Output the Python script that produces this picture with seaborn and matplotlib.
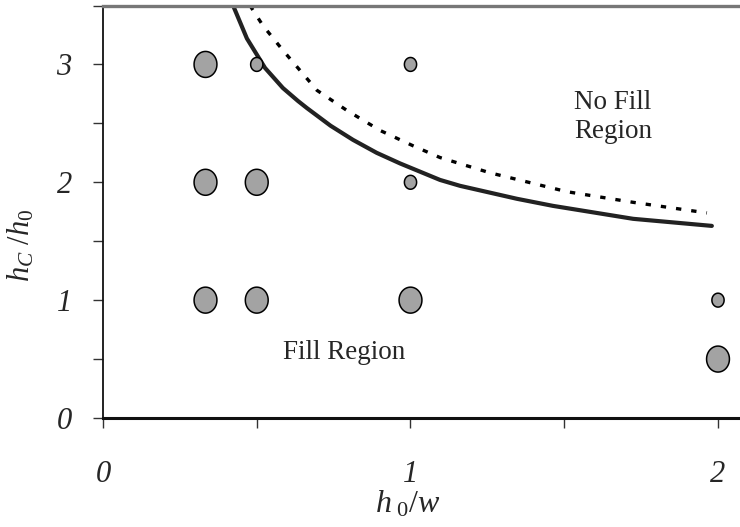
import numpy as np
import pandas as pd
import matplotlib
matplotlib.use("Agg")
import matplotlib.pyplot as plt
from matplotlib.path import Path
import seaborn as sns

# Test cases: aspect ratio h0/w, gap ratio hc/h0, marker class
case_x = [1/3, 1/3, 1/3, 0.5, 0.5, 0.5, 1.0, 1.0, 1.0, 2.0, 2.0]
case_y = [1.0, 2.0, 3.0, 1.0, 2.0, 3.0, 1.0, 2.0, 3.0, 1.0, 0.5]
case_size = ["large", "large", "large", "large", "large", "small",
             "large", "small", "small", "small", "large"]

# Fill / no-fill boundary (solid) and alternative boundary (dashed)
bound_x = [0.423, 0.468, 0.527, 0.585, 0.634, 0.663, 0.740, 0.813, 0.890,
           0.966, 1.096, 1.161, 1.346, 1.463, 1.724, 1.980]
bound_y = [3.50, 3.22, 2.97, 2.80, 2.69, 2.63, 2.48, 2.36, 2.25,
           2.16, 2.02, 1.97, 1.86, 1.80, 1.69, 1.63]
alt_x = [0.478, 0.520, 0.585, 0.696, 0.793, 0.901, 1.008, 1.096, 1.259,
         1.509, 1.724, 1.964]
alt_y = [3.50, 3.33, 3.12, 2.78, 2.61, 2.44, 2.31, 2.21, 2.08,
         1.92, 1.83, 1.74]

x_ticks = [0, 1, 2]
y_ticks = [0, 1, 2, 3]

sns.set_style("ticks")
plt.rcParams["font.family"] = ["Liberation Serif", "DejaVu Serif"]
plt.rcParams["mathtext.fontset"] = "custom"
plt.rcParams["mathtext.it"] = "Liberation Serif:italic"
plt.rcParams["mathtext.rm"] = "Liberation Serif"

fig = plt.figure(figsize=(7.4, 5.27), dpi=100)
ax = fig.add_axes([103 / 740, 109 / 527, 637 / 740, 412.5 / 527])

cases = pd.DataFrame({"x": case_x, "y": case_y, "size": case_size})

# slightly tall ellipse marker
t = np.linspace(0, 2 * np.pi, 60)
ell = Path(np.column_stack([0.44 * np.cos(t), 0.5 * np.sin(t)]), closed=True)

sns.scatterplot(data=cases, x="x", y="y", size="size",
                sizes={"large": 350, "small": 100}, marker=ell,
                color="#a3a3a3", edgecolor="black", linewidth=1.1,
                legend=False, ax=ax, zorder=3)

sns.lineplot(x=bound_x, y=bound_y, sort=False, color="#222222",
             linewidth=3.0, ax=ax, zorder=2)
sns.lineplot(x=alt_x, y=alt_y, sort=False, color="black",
             linewidth=2.4, linestyle=(0, (1.6, 3.0)), ax=ax, zorder=2)

ax.set_xlim(0, 637 / 307.5)
ax.set_ylim(0, 3.5)

ax.set_xticks(x_ticks)
ax.set_xticks([0.5, 1.5], minor=True)
ax.set_yticks(y_ticks)
ax.set_yticks([0.5, 1.5, 2.5, 3.5], minor=True)
ax.set_xticklabels([str(v) for v in x_ticks])
ax.set_yticklabels([str(v) for v in y_ticks])
ax.tick_params(axis="both", which="both", direction="out", length=7.5,
               width=1.0, color="#333333")
ax.tick_params(axis="x", which="major", pad=23, labelsize=22)
ax.tick_params(axis="y", which="major", pad=15, labelsize=22)
for lab in ax.get_xticklabels() + ax.get_yticklabels():
    lab.set_fontstyle("italic")

for side in ["left", "bottom"]:
    ax.spines[side].set_color("#111111")
ax.spines["left"].set_linewidth(1.3)
ax.spines["bottom"].set_linewidth(2.2)
ax.spines["top"].set_color("#777777")
ax.spines["top"].set_linewidth(2.4)
ax.spines["right"].set_visible(False)

ax.set_xlabel(r"$h_{\ 0}/w$", fontsize=23)
ax.xaxis.set_label_coords((408 - 103) / 637, -(489 - 418) / 412.5)
ax.set_ylabel(r"$h_C\ /h_0$", fontsize=22)
ax.yaxis.set_label_coords((36 - 103) / 637, (418 - 245) / 412.5)

ax.text(1.532, 2.78, "No Fill\nRegion", fontsize=19.5, ha="left", va="top",
        linespacing=1.2)
ax.text(0.585, 0.50, "Fill Region", fontsize=19.5, ha="left", va="baseline")

fig.savefig("out.png", dpi=100)
